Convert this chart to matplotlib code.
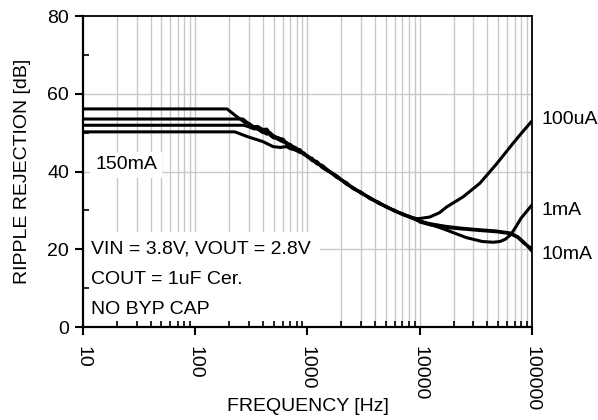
import matplotlib
matplotlib.use('Agg')
import matplotlib.pyplot as plt
from matplotlib.ticker import LogLocator, NullFormatter, FixedLocator

plt.rcParams['font.family'] = ['Liberation Sans', 'DejaVu Sans']

# ripple rejection [dB] vs frequency [Hz]
f_100u = [10, 192, 230, 277, 300, 330, 360, 400, 434, 470, 500, 550, 608,
          650, 700, 780, 857, 930, 1000, 1100, 1208, 1350, 1500, 1820, 2235,
          2542, 3000, 3603, 4300, 5072, 6000, 7096, 8200, 9395, 10000, 12300,
          15000, 17400, 24400, 34400, 48500, 68000, 83000, 100000]
db_100u = [56.1, 56.1, 54.3, 52.6, 52.4, 51.5, 51.6, 50.8, 50.9, 49.6, 49.2,
           48.6, 48.3, 47.2, 47.0, 45.9, 45.6, 44.3, 44.1, 42.9, 42.6, 41.2,
           40.4, 38.9, 36.7, 35.9, 34.4, 33.3, 31.8, 31.0, 29.8, 29.1, 28.3,
           27.9, 27.9, 28.3, 29.4, 30.9, 33.5, 37.0, 42.0, 47.3, 50.3, 53.0]

f_1m = [10, 266, 290, 320, 350, 380, 434, 470, 500, 550, 608, 650, 700, 780,
        857, 930, 1000, 1100, 1208, 1350, 1500, 1820, 2235, 2542, 3000, 3603,
        4300, 5072, 6000, 7096, 8200, 9395, 10000, 12300, 15000, 18600,
        26000, 36000, 45000, 52000, 58000, 65000, 72000, 80000, 90000, 100000]
db_1m = [53.5, 53.5, 52.6, 51.7, 51.4, 50.6, 49.6, 49.9, 49.0, 48.2, 47.6,
         47.5, 46.5, 46.2, 45.0, 44.8, 43.7, 43.4, 42.0, 41.6, 40.5, 38.5,
         37.1, 35.6, 34.7, 33.0, 32.1, 30.8, 30.0, 28.9, 28.4, 27.6, 27.3,
         26.4, 25.6, 24.6, 23.0, 22.0, 21.8, 22.0, 22.6, 23.8, 25.8, 28.0,
         29.8, 31.4]

f_10m = [10, 270, 300, 330, 360, 400, 434, 470, 500, 550, 608, 650, 700, 780,
         857, 930, 1000, 1100, 1208, 1350, 1500, 1820, 2235, 2542, 3000, 3603,
         4300, 5072, 6000, 7096, 8200, 9395, 10000, 12300, 17000, 24000,
         35000, 48000, 64000, 75000, 85000, 100000]
db_10m = [51.9, 51.9, 51.5, 51.0, 50.9, 50.0, 50.3, 49.2, 48.6, 48.7, 47.9,
          47.1, 46.8, 45.8, 45.5, 44.5, 43.9, 42.8, 42.5, 41.0, 40.2, 38.8,
          36.8, 35.7, 34.5, 33.2, 31.9, 30.9, 29.8, 28.9, 28.2, 27.5, 27.2,
          26.6, 25.9, 25.4, 25.0, 24.7, 24.2, 23.2, 21.8, 19.5]

f_150m = [10, 225, 245, 290, 400, 495, 570, 650, 700, 780, 857, 930, 1000,
          1100, 1208, 1350, 1500, 1820, 2235, 2542, 3000, 3603, 4300, 5072,
          6000, 7096, 8200, 9395, 10000, 12300, 17000, 24000, 35000, 48000,
          64000, 75000, 85000, 100000]
db_150m = [50.2, 50.2, 49.8, 49.0, 47.7, 46.4, 46.2, 46.4, 45.9, 45.5, 44.9,
           44.6, 43.9, 43.0, 42.1, 41.3, 40.4, 38.6, 36.9, 35.8, 34.6, 33.1,
           32.0, 30.8, 29.9, 29.0, 28.3, 27.6, 27.0, 26.3, 25.6, 25.2, 24.8,
           24.5, 24.0, 23.0, 21.5, 20.2]

x_ticks = [10, 100, 1000, 10000, 100000]
x_labels = ['10', '100', '1000', '10000', '100000']
y_ticks = [0, 20, 40, 60, 80]

fs = 14
grid_c = '#c8c8c8'
fig = plt.figure(figsize=(5.98, 4.2), dpi=100)
ax = fig.add_axes((0.1388, 0.2214, 0.7508, 0.7405))

for f, db in ((f_100u, db_100u), (f_1m, db_1m), (f_10m, db_10m),
              (f_150m, db_150m)):
    ax.plot(f, db, color='black', lw=2.2, solid_joinstyle='round', zorder=2)

ax.set_xscale('log')
ax.set_xlim(10, 100000)
ax.set_ylim(0, 80)
ax.set_xticks(x_ticks)
ax.set_xticklabels(x_labels, rotation=270, fontsize=fs)
ax.xaxis.set_minor_locator(LogLocator(base=10, subs=range(2, 10)))
ax.xaxis.set_minor_formatter(NullFormatter())
ax.set_yticks(y_ticks)
ax.set_yticklabels([str(v) for v in y_ticks], fontsize=fs)
ax.yaxis.set_minor_locator(FixedLocator([10, 30, 50, 70]))

ax.tick_params(axis='both', which='major', direction='out', length=6,
               width=1.5, colors='black')
ax.tick_params(axis='x', which='major', pad=8)
ax.tick_params(axis='y', which='major', pad=4)
ax.tick_params(axis='both', which='minor', direction='in', length=4,
               width=1.2, colors='black')

# grid drawn by hand so the note boxes hide it but not the ticks
ax.set_axisbelow(False)
for xv in list(ax.xaxis.get_majorticklocs()) + list(ax.xaxis.get_minorticklocs()):
    if 10 < xv < 100000:
        ax.axvline(xv, color=grid_c, lw=1.0, zorder=0.5)
for yv in y_ticks[1:-1]:
    ax.axhline(yv, color=grid_c, lw=1.0, zorder=0.5)

for s in ('left', 'bottom'):
    ax.spines[s].set_linewidth(1.6)
for s in ('top', 'right'):
    ax.spines[s].set_linewidth(1.3)

ax.set_xlabel('FREQUENCY [Hz]', fontsize=fs)
ax.set_ylabel('RIPPLE REJECTION [dB]', fontsize=fs)
ax.xaxis.set_label_coords(0.5, -0.228)
ax.yaxis.set_label_coords(-0.115, 0.5)

ax.text(0.027, 0.521, '150mA', transform=ax.transAxes, fontsize=fs,
        va='center', ha='left', zorder=1.5,
        bbox=dict(boxstyle='square,pad=0.25', facecolor='white',
                  edgecolor='none'))
notes = 'VIN = 3.8V, VOUT = 2.8V\nCOUT = 1uF Cer.\nNO BYP CAP'
ax.text(0.018, 0.154, notes, transform=ax.transAxes, fontsize=fs,
        va='center', ha='left', linespacing=2.0, zorder=1.5,
        bbox=dict(boxstyle='square,pad=0.45', facecolor='white',
                  edgecolor='none'))

right = [('100uA', 0.666), ('1mA', 0.376), ('10mA', 0.232)]
for t, yy in right:
    ax.text(1.022, yy, t, transform=ax.transAxes, fontsize=fs,
            va='center', ha='left', clip_on=False)

fig.savefig('out.png', dpi=100)
